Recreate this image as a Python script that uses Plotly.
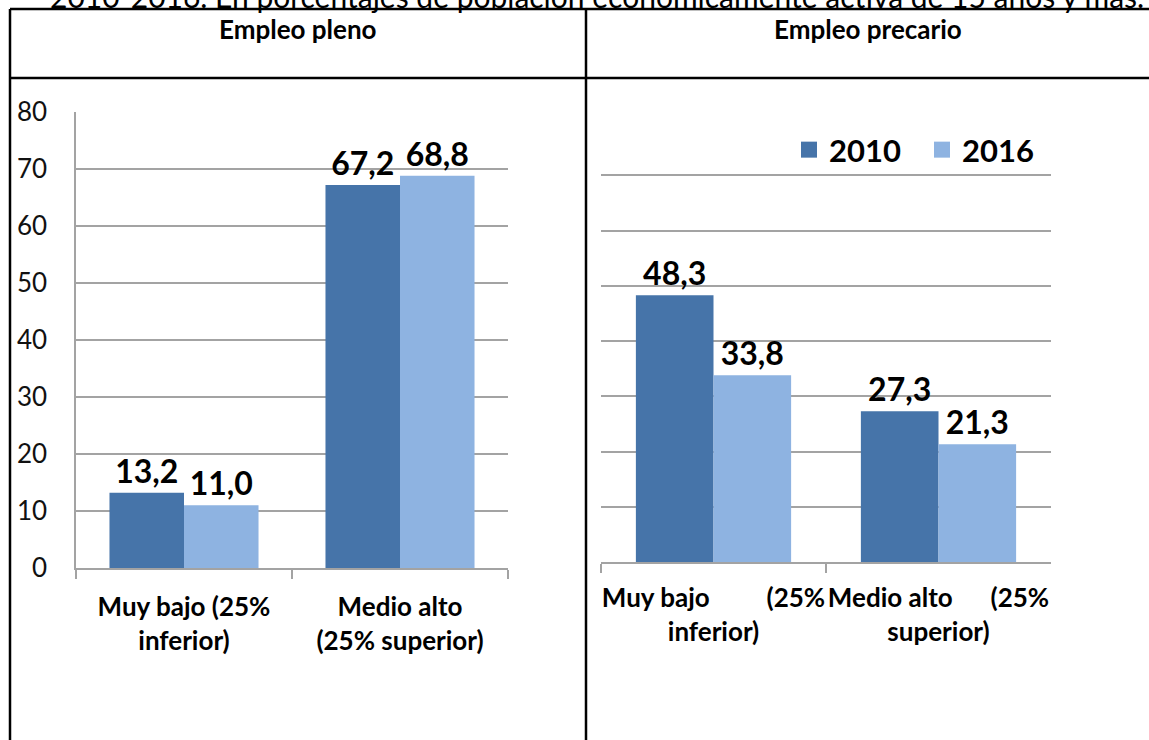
import plotly.graph_objects as go

# Data
categorias = ["Muy bajo (25%<br>inferior)", "Medio alto<br>(25% superior)"]
categorias_precario = ["Muy bajo" + "\u00a0" * 9 + "(25%<br>inferior)",
                       "Medio alto" + "\u00a0" * 6 + "(25%<br>superior)"]
anios = ["2010", "2016"]
pleno_2010 = [13.2, 67.2]
pleno_2016 = [11.0, 68.8]
precario_2010 = [48.3, 27.3]
precario_2016 = [33.8, 21.3]
y_ticks = [0, 10, 20, 30, 40, 50, 60, 70, 80]

titulo = "2010-2016. En porcentajes de población económicamente activa de 15 años y más."
cabeceras = ["Empleo pleno", "Empleo precario"]

W, H = 1149, 740
colores = ["#4674A9", "#8EB3E1"]
grid = "#A3A3A3"
font_chart = "Lato"


def px_x(p):
    return p / W


def px_y(p):
    return 1 - p / H


fig = go.Figure()

# Empleo pleno
for anio, vals, col in zip(anios, [pleno_2010, pleno_2016], colores):
    fig.add_trace(go.Bar(
        x=categorias, y=vals, name=anio, marker=dict(color=col, line=dict(width=0)),
        texttemplate="%{y:.1f}", textposition="outside", cliponaxis=False,
        textfont=dict(size=32, color="black", family=font_chart, weight="bold"),
        xaxis="x", yaxis="y", showlegend=False,
    ))

# Empleo precario
for anio, vals, col in zip(anios, [precario_2010, precario_2016], colores):
    fig.add_trace(go.Bar(
        x=categorias, y=vals, name=anio, marker=dict(color=col, line=dict(width=0)),
        texttemplate="%{y:.1f}", textposition="outside", cliponaxis=False,
        textfont=dict(size=32, color="black", family=font_chart, weight="bold"),
        xaxis="x2", yaxis="y2", showlegend=False,
    ))

# legend entries with bigger squares
for anio, col in zip(anios, colores):
    fig.add_trace(go.Scatter(
        x=[None], y=[None], mode="markers", name=anio,
        marker=dict(symbol="square", size=18, color=col),
        xaxis="x2", yaxis="y2", showlegend=True,
    ))

eje_x = dict(
    type="category", showgrid=False, showline=True, linecolor=grid, linewidth=2,
    ticks="outside", tickson="boundaries", ticklen=9, tickcolor=grid, tickwidth=1.5,
    tickfont=dict(size=26, color="black", family=font_chart, weight="bold"),
    tickangle=0, automargin=False,
)
eje_y = dict(
    range=[0, 80], tickvals=y_ticks, showgrid=True, gridcolor=grid, gridwidth=1.5,
    zeroline=False, ticks="", automargin=False,
)

fig.update_layout(
    width=W, height=H,
    margin=dict(l=0, r=0, t=0, b=0),
    paper_bgcolor="white", plot_bgcolor="white",
    separators=", ",
    bargap=0.31, bargroupgap=0,
    xaxis=dict(eje_x, domain=[px_x(76), px_x(508)], anchor="y",
               ticklabelstandoff=15),
    yaxis=dict(eje_y, domain=[px_y(568), px_y(112)], anchor="x",
               showline=True, linecolor=grid, linewidth=1.5,
               tickfont=dict(size=26, color="#111", family=font_chart),
               ticklabelstandoff=22),
    xaxis2=dict(eje_x, domain=[px_x(601), px_x(1051)], anchor="y2",
                tickvals=categorias, ticktext=categorias_precario,
                ticklabelstandoff=12),
    yaxis2=dict(eje_y, domain=[px_y(562), px_y(120)], anchor="x2",
                showline=False, showticklabels=False),
    legend=dict(
        orientation="h", x=px_x(789), y=px_y(150), xanchor="left", yanchor="middle",
        font=dict(size=31, color="black", family=font_chart, weight="bold"),
        bgcolor="rgba(0,0,0,0)", itemclick=False, itemsizing="trace",
        entrywidth=88,
    ),
)

# Table borders
lineas = [
    (px_x(10), px_y(9), 1, px_y(9)),
    (px_x(10), px_y(78), 1, px_y(78)),
    (px_x(10), px_y(9), px_x(10), 0),
    (px_x(586), px_y(9), px_x(586), 0),
]
for x0, y0, x1, y1 in lineas:
    fig.add_shape(type="line", xref="paper", yref="paper", x0=x0, y0=y0, x1=x1, y1=y1,
                  line=dict(color="black", width=2.5))

# Headers
for cab, xc in zip(cabeceras, [px_x(298), px_x(868)]):
    fig.add_annotation(text=cab, x=xc, y=px_y(29), xref="paper", yref="paper",
                       showarrow=False, xanchor="center", yanchor="middle",
                       font=dict(size=26, color="black", family="Lato", weight="bold"))

# Title (cut at the top of the picture)
fig.add_annotation(text=titulo, x=px_x(48), y=px_y(16), xref="paper", yref="paper",
                   showarrow=False, xanchor="left", yanchor="bottom",
                   font=dict(size=30, color="black", family="Lato"))

fig.write_html("out.html", config={"displayModeBar": False},
               post_script="document.body.style.margin='0';")
